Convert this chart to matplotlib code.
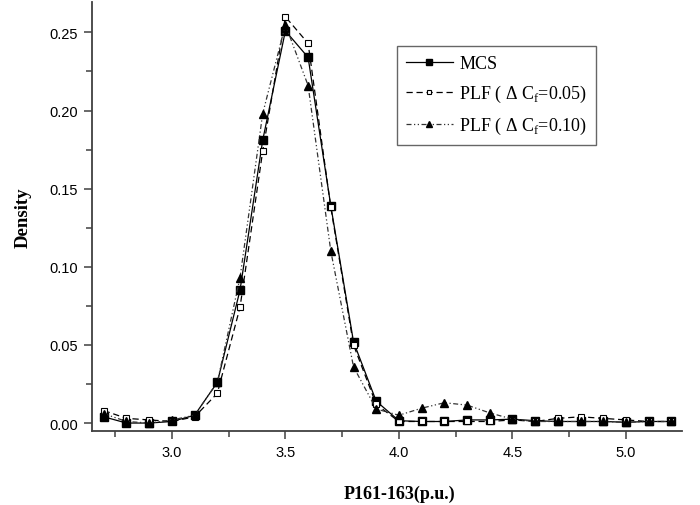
import numpy as np
import matplotlib
matplotlib.use("Agg")
import matplotlib.pyplot as plt
from matplotlib.ticker import MultipleLocator

plt.rcParams['mathtext.fontset'] = 'custom'
plt.rcParams['mathtext.rm'] = 'Liberation Serif'

# Voltage samples (p.u.) and estimated densities
x_vals = np.round(np.arange(2.7, 5.21, 0.1), 2)

mcs = [0.004, 0.000, 0.000, 0.001, 0.005, 0.026, 0.085, 0.181, 0.251, 0.234,
       0.139, 0.052, 0.014, 0.0015, 0.001, 0.001, 0.002, 0.002, 0.0025, 0.0015,
       0.001, 0.001, 0.001, 0.0005, 0.001, 0.001]
plf_005 = [0.008, 0.003, 0.002, 0.001, 0.004, 0.019, 0.074, 0.174, 0.260, 0.243,
           0.138, 0.050, 0.012, 0.001, 0.001, 0.001, 0.001, 0.001, 0.002, 0.001,
           0.003, 0.004, 0.003, 0.002, 0.001, 0.001]
plf_010 = [0.006, 0.001, 0.000, 0.002, 0.005, 0.026, 0.093, 0.198, 0.255, 0.216,
           0.110, 0.036, 0.009, 0.005, 0.0095, 0.013, 0.0115, 0.0065, 0.0025, 0.001,
           0.001, 0.001, 0.001, 0.0005, 0.001, 0.001]

labels = ['MCS',
          'PLF ( Δ C$_\\mathrm{f}$=0.05)',
          'PLF ( Δ C$_\\mathrm{f}$=0.10)']

fig = plt.figure(figsize=(7.0, 5.06), dpi=100)
ax = fig.add_axes([0.1314, 0.1462, 0.8429, 0.848])

ax.plot(x_vals, mcs, color='black', lw=0.9, ls='-', marker='s', ms=6,
        mfc='black', mec='black', label=labels[0])
ax.plot(x_vals, plf_005, color='black', lw=0.9, ls=(0, (5, 3)), marker='s', ms=5,
        mfc='white', mec='black', mew=0.8, label=labels[1])
ax.plot(x_vals, plf_010, color='#333333', lw=0.9, ls=(0, (4, 2, 1, 2, 1, 2)),
        marker='^', ms=6, mfc='black', mec='black', label=labels[2])

ax.set_xlim(2.648, 5.247)
ax.set_ylim(-0.0051, 0.2695)

ax.xaxis.set_major_locator(MultipleLocator(0.5))
ax.xaxis.set_minor_locator(MultipleLocator(0.25))
ax.yaxis.set_major_locator(MultipleLocator(0.05))
ax.yaxis.set_minor_locator(MultipleLocator(0.025))
ax.xaxis.set_major_formatter(matplotlib.ticker.FormatStrFormatter('%.1f'))
ax.yaxis.set_major_formatter(matplotlib.ticker.FormatStrFormatter('%.2f'))

for side in ['top', 'right']:
    ax.spines[side].set_visible(False)
for side in ['left', 'bottom']:
    ax.spines[side].set_linewidth(1.3)
    ax.spines[side].set_color('#404040')

ax.tick_params(which='major', direction='out', length=6, width=1.1, color='#404040',
               labelsize=10.5, pad=4)
ax.tick_params(which='minor', direction='out', length=4, width=1.1, color='#404040')
for lbl in ax.get_xticklabels() + ax.get_yticklabels():
    lbl.set_fontfamily('Liberation Sans')

ax.set_xlabel('P161-163(p.u.)', fontfamily='Liberation Serif', fontweight='bold',
              fontsize=13)
ax.xaxis.set_label_coords(0.521, -0.124)
ax.set_ylabel('Density', fontfamily='Liberation Serif', fontweight='bold',
              fontsize=13.5, labelpad=13)

leg = ax.legend(loc='upper left', bbox_to_anchor=(0.5165, 0.897),
                prop={'family': 'Liberation Serif', 'size': 13},
                frameon=True, fancybox=False, edgecolor='#404040',
                handlelength=2.6, labelspacing=0.6, borderpad=0.5,
                handletextpad=0.35, borderaxespad=0, markerscale=0.7)
leg.get_frame().set_linewidth(1.0)

fig.savefig('out.png', dpi=100)
